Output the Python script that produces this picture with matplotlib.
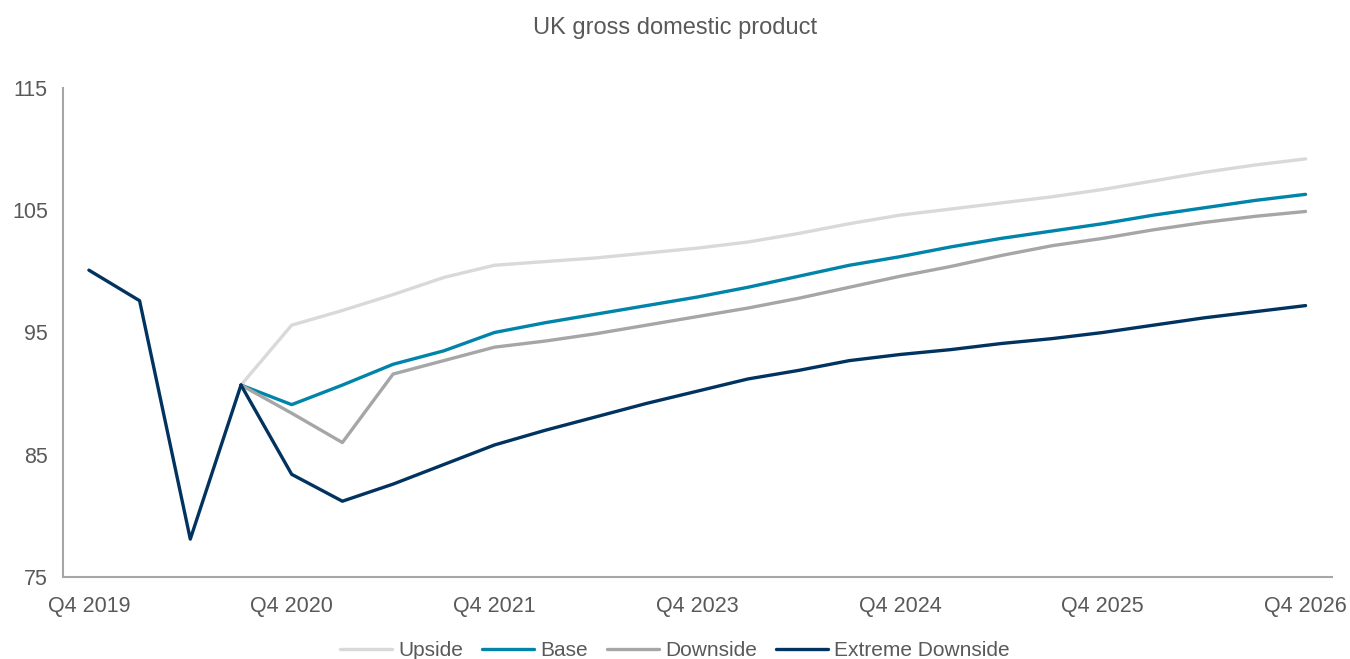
import matplotlib.pyplot as plt
import numpy as np

plt.rcParams['font.family'] = ['Liberation Sans', 'DejaVu Sans']

# quarterly index values, Q4 2019 = 100
tick_labels = ['Q4 2019', 'Q4 2020', 'Q4 2021', 'Q4 2023', 'Q4 2024', 'Q4 2025', 'Q4 2026']

history = [100.1, 97.6, 78.1, 90.7]

upside = [95.6, 96.8, 98.1, 99.5, 100.5, 100.8, 101.1, 101.5, 101.9, 102.4, 103.1,
          103.9, 104.6, 105.1, 105.6, 106.1, 106.7, 107.4, 108.1, 108.7, 109.2]
base = [89.1, 90.7, 92.4, 93.5, 95.0, 95.8, 96.5, 97.2, 97.9, 98.7, 99.6,
        100.5, 101.2, 102.0, 102.7, 103.3, 103.9, 104.6, 105.2, 105.8, 106.3]
downside = [88.4, 86.0, 91.6, 92.7, 93.8, 94.3, 94.9, 95.6, 96.3, 97.0, 97.8,
            98.7, 99.6, 100.4, 101.3, 102.1, 102.7, 103.4, 104.0, 104.5, 104.9]
extreme = [83.4, 81.2, 82.6, 84.2, 85.8, 87.0, 88.1, 89.2, 90.2, 91.2, 91.9,
           92.7, 93.2, 93.6, 94.1, 94.5, 95.0, 95.6, 96.2, 96.7, 97.2]

series = [
    ('Upside', upside, '#d9d9d9'),
    ('Base', base, '#0084a9'),
    ('Downside', downside, '#a6a6a6'),
    ('Extreme Downside', extreme, '#00335f'),
]

fig = plt.figure(figsize=(13.5, 6.59), dpi=100)
ax = fig.add_axes([0.0467, 0.1244, 0.9403, 0.7421])

n_hist = len(history)
for i, (name, vals, col) in enumerate(series):
    y = history[-1:] + vals
    x = np.arange(n_hist - 1, n_hist - 1 + len(y))
    ax.plot(x, y, color=col, lw=2.4, label=name, solid_capstyle='round',
            zorder=3 if i == 3 else 2)
# shared history, in the extreme downside colour
ax.plot(np.arange(n_hist), history, color='#00335f', lw=2.4, solid_capstyle='round', zorder=3)

n_total = n_hist + len(upside)
ax.set_xlim(-0.51, n_total - 1 + 0.53)
ax.set_ylim(75, 115)
ax.set_yticks([75, 85, 95, 105, 115])
ax.set_xticks(np.arange(0, n_total, 4))
ax.set_xticklabels(tick_labels)

for s in ['top', 'right']:
    ax.spines[s].set_visible(False)
for s in ['left', 'bottom']:
    ax.spines[s].set_color('#a6a6a6')
    ax.spines[s].set_linewidth(1.5)
ax.tick_params(length=0, labelsize=15.5, colors='#595959')
ax.tick_params(axis='x', pad=14)
ax.tick_params(axis='y', pad=11)

fig.text(0.5, 1 - 28 / 659, 'UK gross domestic product', ha='center', va='center',
         fontsize=17, color='#595959')

fig.legend(loc='center', bbox_to_anchor=(0.5, 1 - 651 / 659), ncol=4, frameon=False,
           fontsize=15, labelcolor='#595959', handlelength=2.5, handletextpad=0.3,
           columnspacing=0.9)

fig.savefig('out.png', dpi=100)
